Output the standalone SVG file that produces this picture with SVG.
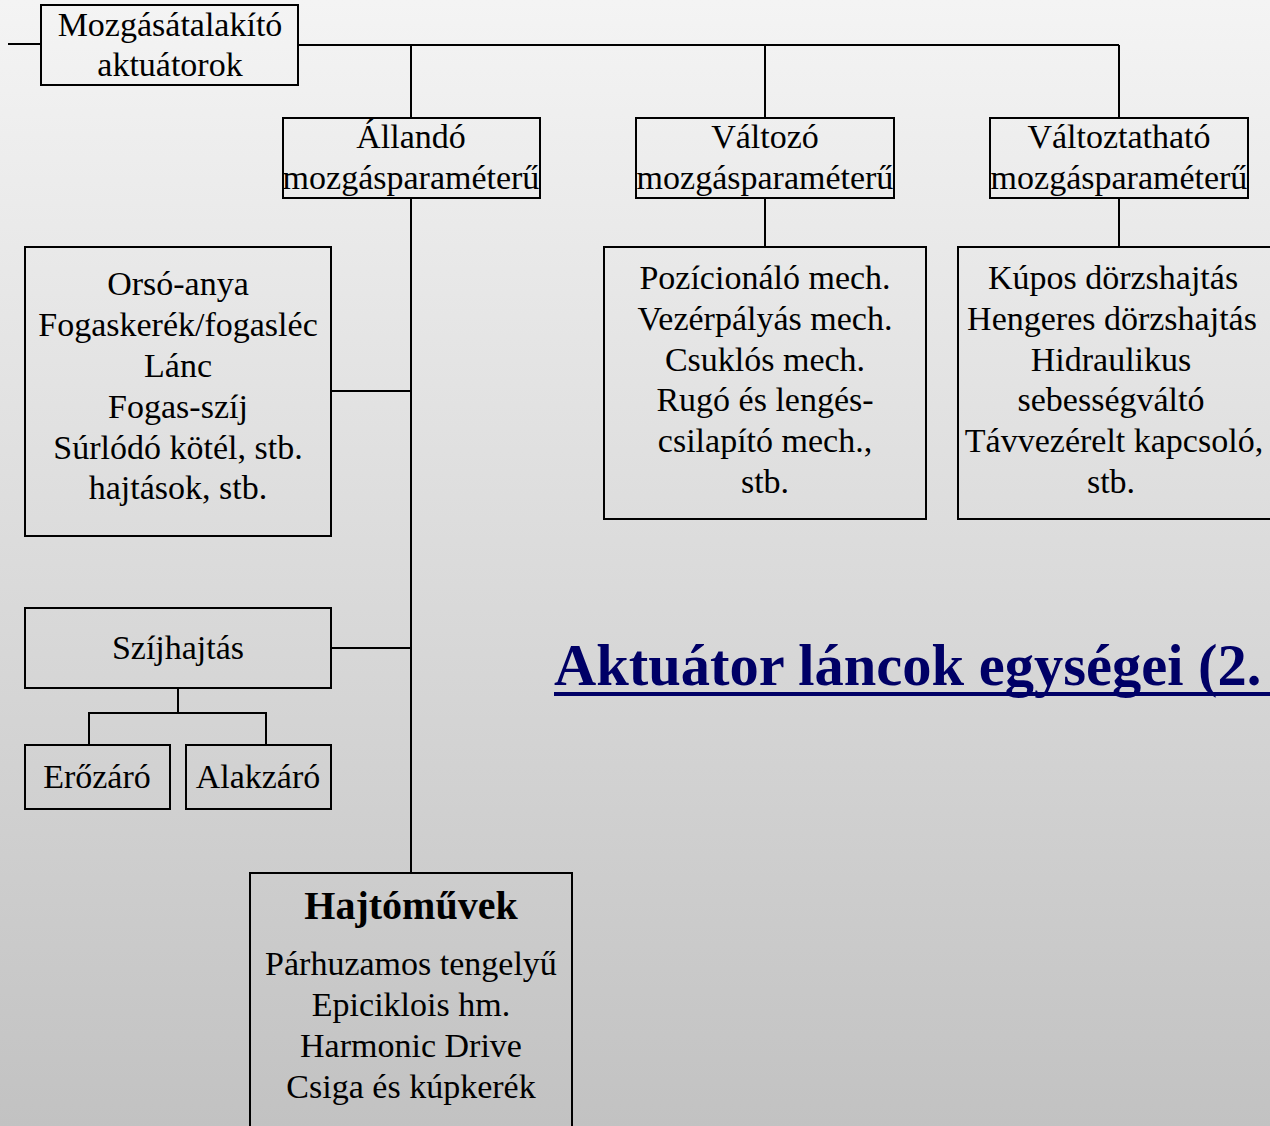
<svg xmlns="http://www.w3.org/2000/svg" width="1270" height="1126" viewBox="0 0 1270 1126">
  <defs>
    <linearGradient id="bg" x1="0" y1="0" x2="0" y2="1">
      <stop offset="0" stop-color="#f4f4f4"/>
      <stop offset="1" stop-color="#c2c2c2"/>
    </linearGradient>
    <style>
      .box { fill: none; stroke: #000; stroke-width: 2; }
      .wire { fill: none; stroke: #000; stroke-width: 2; }
      .t { font-family: "Liberation Serif", "Times New Roman", serif; font-size: 34px; fill: #000; text-anchor: middle; }
      .b { font-weight: bold; font-size: 40px; }
      .title { font-family: "Liberation Serif", "Times New Roman", serif; font-size: 58.5px; font-weight: bold; fill: #000066; }
    </style>
  </defs>

  <rect x="0" y="0" width="1270" height="1126" fill="url(#bg)"/>

  <!-- connectors -->
  <g id="connectors">
    <path class="wire" d="M8 44 H41"/>
    <path class="wire" d="M298 45 H1119"/>
    <path class="wire" d="M411 45 V118"/>
    <path class="wire" d="M765 45 V118"/>
    <path class="wire" d="M1119 45 V118"/>
    <path class="wire" d="M411 198 V873"/>
    <path class="wire" d="M331 391 H411"/>
    <path class="wire" d="M331 648 H411"/>
    <path class="wire" d="M178 688 V713 M89 745 V713 H266 V745"/>
    <path class="wire" d="M765 198 V247"/>
    <path class="wire" d="M1119 198 V247"/>
  </g>

  <g id="root">
    <rect class="box" x="41" y="5" width="257" height="80"/>
    <text class="t" x="170" y="36">Mozgásátalakító</text>
    <text class="t" x="170" y="76">aktuátorok</text>
  </g>

  <g id="allando">
    <rect class="box" x="283" y="118" width="257" height="80"/>
    <text class="t" x="411" y="148">Állandó</text>
    <text class="t" x="411" y="189">mozgásparaméterű</text>
  </g>

  <g id="valtozo">
    <rect class="box" x="636" y="118" width="258" height="80"/>
    <text class="t" x="765" y="148">Változó</text>
    <text class="t" x="765" y="189">mozgásparaméterű</text>
  </g>

  <g id="valtoztathato">
    <rect class="box" x="990" y="118" width="258" height="80"/>
    <text class="t" x="1119" y="148">Változtatható</text>
    <text class="t" x="1119" y="189">mozgásparaméterű</text>
  </g>

  <g id="orso-anya">
    <rect class="box" x="25" y="247" width="306" height="289"/>
    <text class="t" x="178" y="295">Orsó-anya</text>
    <text class="t" x="178" y="336">Fogaskerék/fogasléc</text>
    <text class="t" x="178" y="377">Lánc</text>
    <text class="t" x="178" y="418">Fogas-szíj</text>
    <text class="t" x="178" y="459">Súrlódó kötél, stb.</text>
    <text class="t" x="178" y="499">hajtások, stb.</text>
  </g>

  <g id="szijhajtas">
    <rect class="box" x="25" y="608" width="306" height="80"/>
    <text class="t" x="178" y="659">Szíjhajtás</text>
  </g>

  <g id="erozaro">
    <rect class="box" x="25" y="745" width="145" height="64"/>
    <text class="t" x="97" y="788">Erőzáró</text>
  </g>

  <g id="alakzaro">
    <rect class="box" x="186" y="745" width="145" height="64"/>
    <text class="t" x="258" y="788">Alakzáró</text>
  </g>

  <g id="hajtomuvek">
    <rect class="box" x="250" y="873" width="322" height="260"/>
    <text class="t b" x="411" y="919">Hajtóművek</text>
    <text class="t" x="411" y="975">Párhuzamos tengelyű</text>
    <text class="t" x="411" y="1016">Epiciklois hm.</text>
    <text class="t" x="411" y="1057">Harmonic Drive</text>
    <text class="t" x="411" y="1098">Csiga és kúpkerék</text>
  </g>

  <g id="valtozo-mech">
    <rect class="box" x="604" y="247" width="322" height="272"/>
    <text class="t" x="765" y="289">Pozícionáló mech.</text>
    <text class="t" x="765" y="330">Vezérpályás mech.</text>
    <text class="t" x="765" y="371">Csuklós mech.</text>
    <text class="t" x="765" y="411">Rugó és lengés-</text>
    <text class="t" x="765" y="452">csilapító mech.,</text>
    <text class="t" x="765" y="493">stb.</text>
  </g>

  <g id="valtoztathato-mech">
    <rect class="box" x="958" y="247" width="330" height="272"/>
    <text class="t" x="1113" y="289">Kúpos dörzshajtás</text>
    <text class="t" x="1112" y="330">Hengeres dörzshajtás</text>
    <text class="t" x="1111" y="371">Hidraulikus</text>
    <text class="t" x="1111" y="411">sebességváltó</text>
    <text class="t" x="1114" y="452">Távvezérelt kapcsoló,</text>
    <text class="t" x="1111" y="493">stb.</text>
  </g>

  <g id="title">
    <text class="title" x="554" y="685">Aktuátor láncok egységei (2.</text>
    <rect x="554" y="692" width="716" height="4" fill="#000066"/>
  </g>
</svg>
